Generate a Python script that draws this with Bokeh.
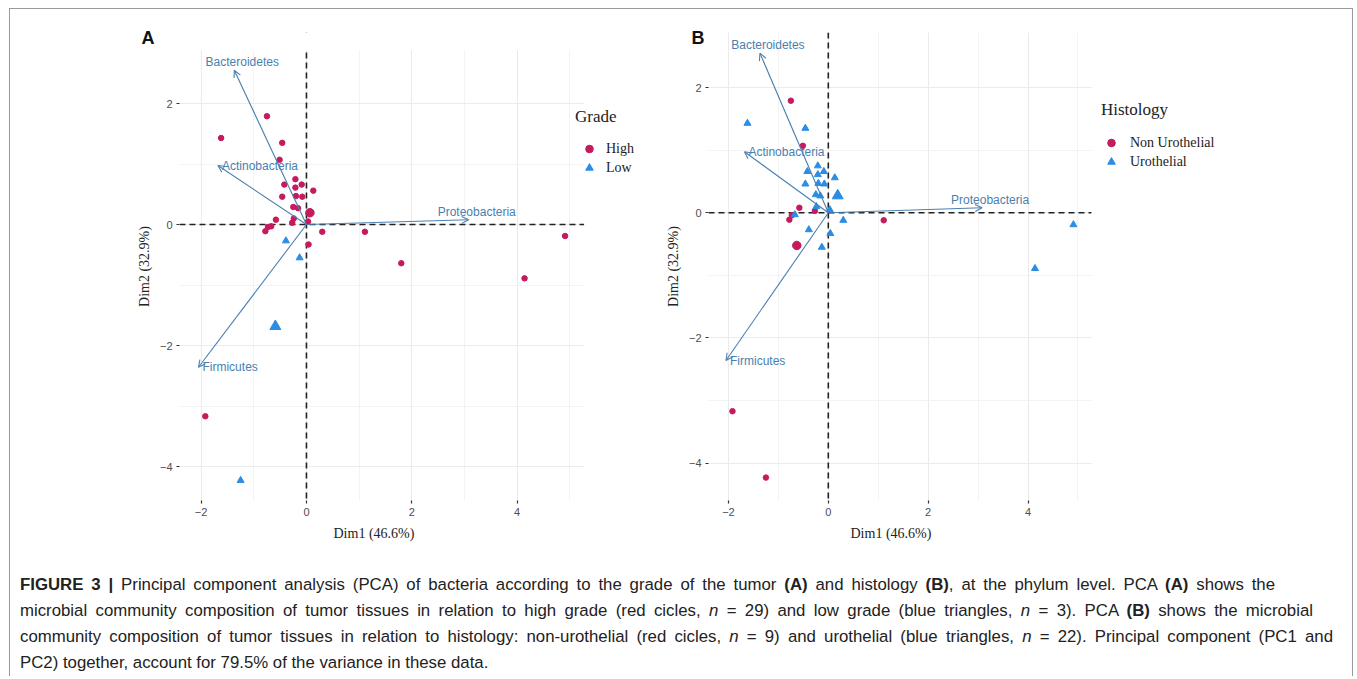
from bokeh.plotting import figure
from bokeh.models import (Span, Arrow, OpenHead, Legend, LegendItem, FixedTicker, Div,
                          BoxAnnotation, Title)
from bokeh.layouts import row, column
from bokeh.embed import file_html
from bokeh.resources import INLINE
from bokeh.core.properties import value

# ---------------- data ----------------
pc1 = [-1.62, -0.75, -0.46, -0.51, -0.42, -0.46, -0.21, -0.09, -0.21, -0.20, -0.08,
       0.13, -0.25, -0.16, -0.24, -0.27, 0.03, -0.58, -0.67, -0.73, -0.78, 0.30,
       1.11, 0.04, 1.80, 4.91, 4.14, -1.92, -0.39, -0.13, -1.25]
pc2 = [1.43, 1.79, 1.35, 1.07, 0.66, 0.46, 0.75, 0.66, 0.61, 0.47, 0.46,
       0.56, 0.29, 0.27, 0.10, 0.03, 0.05, 0.08, -0.03, -0.04, -0.11, -0.12,
       -0.12, -0.33, -0.64, -0.19, -0.89, -3.17, -0.27, -0.55, -4.23]
grade = ["High"] * 28 + ["Low"] * 3
histology = ["Urothelial", "Non Urothelial", "Urothelial", "Non Urothelial", "Urothelial",
             "Urothelial", "Urothelial", "Urothelial", "Urothelial", "Urothelial",
             "Urothelial", "Urothelial", "Urothelial", "Urothelial", "Urothelial",
             "Non Urothelial", "Urothelial", "Non Urothelial", "Urothelial", "Non Urothelial",
             "Non Urothelial", "Urothelial", "Non Urothelial", "Urothelial", None,
             "Urothelial", "Urothelial", "Non Urothelial", "Urothelial", "Urothelial",
             "Non Urothelial"]

phyla = ["Bacteroidetes", "Actinobacteria", "Proteobacteria", "Firmicutes"]
load1 = [-1.37, -1.68, 3.08, -2.05]
load2 = [2.55, 0.975, 0.08, -2.36]

x_ticks = [-2, 0, 2, 4]
x_minor = [-1, 1, 3, 5]
y_ticks = [-4, -2, 0, 2]
y_minor = [-3, -1, 1]
x_title = "Dim1 (46.6%)"
y_title = "Dim2 (32.9%)"

# ---------------- style ----------------
RED = "#C51B5E"
BLUE = "#2B8DE3"
VAR = "#4A80B0"
SERIF = "Liberation Serif"
SANS = "Liberation Sans"
H = 545
PANEL_END = 5.27   # right edge of the visible panel (data units)
PANEL_TOP = 2.88   # top edge of the visible panel (data units)


def make_panel(letter, letter_off, groups, levels, legend_title, width, left,
               xr, yr, legend_loc, glyph_w, label_sd, title_sd, xlab_off):
    p = figure(width=width, height=H, x_range=xr, y_range=yr,
               output_backend="svg", toolbar_location=None,
               min_border_left=left, min_border_right=5,
               min_border_top=23, min_border_bottom=54)
    p.outline_line_color = None
    p.background_fill_color = "white"
    p.border_fill_color = "white"

    p.title.text = letter
    p.title.align = "left"
    p.title.offset = letter_off
    p.title.standoff = -30
    p.title.text_font = SANS
    p.title.text_font_style = "bold"
    p.title.text_font_size = "18px"
    p.title.text_color = "#111111"

    p.xaxis.ticker = FixedTicker(ticks=x_ticks, minor_ticks=x_minor)
    p.yaxis.ticker = FixedTicker(ticks=y_ticks, minor_ticks=y_minor)
    for g in (p.xgrid, p.ygrid):
        g.grid_line_color = "#EBEBEB"
        g.grid_line_width = 1.1
        g.minor_grid_line_color = "#F0F0F0"
        g.minor_grid_line_width = 0.8
    for ax in (p.xaxis, p.yaxis):
        ax.axis_line_color = None
        ax.major_tick_line_color = "#333333"
        ax.major_tick_line_width = 1.2
        ax.major_tick_out = 3
        ax.major_tick_in = 0
        ax.minor_tick_line_color = None
        ax.major_label_text_font = SANS
        ax.major_label_text_font_size = "11px"
        ax.major_label_text_color = "#4D4D4D"
        ax.major_label_standoff = 3
        ax.axis_label_text_font = SERIF
        ax.axis_label_text_font_style = "normal"
        ax.axis_label_text_font_size = "14px"
        ax.axis_label_text_color = "#222222"
    p.yaxis.axis_label_standoff = 5
    p.yaxis.axis_label = y_title
    p.add_layout(Title(text=x_title, align="left", offset=xlab_off, standoff=10,
                       text_font=SERIF, text_font_style="normal", text_font_size="14px",
                       text_color="#222222"), "below")

    # reference dashed lines
    p.add_layout(Span(location=0, dimension="width", line_color="#222222",
                      line_width=1.6, line_dash="6 4", level="underlay"))
    p.add_layout(Span(location=0, dimension="height", line_color="#222222",
                      line_width=1.6, line_dash="6 4", level="underlay"))
    # blank areas outside the visible panel (legend area on the right, margin on top)
    p.add_layout(BoxAnnotation(left=PANEL_END, fill_color="white", fill_alpha=1.0,
                               line_alpha=0, level="underlay"))
    p.add_layout(BoxAnnotation(bottom=PANEL_TOP, fill_color="white", fill_alpha=1.0,
                               line_alpha=0, level="underlay"))

    # variable arrows
    for a, b in zip(load1, load2):
        p.add_layout(Arrow(end=OpenHead(size=7, line_color=VAR, line_width=1.1),
                           x_start=0, y_start=0, x_end=a, y_end=b,
                           line_color=VAR, line_width=1.1))
    above = [i for i, n in enumerate(phyla) if n in ("Bacteroidetes", "Proteobacteria")]
    side = [i for i in range(len(phyla)) if i not in above]
    p.text(x=[load1[i] for i in above], y=[load2[i] for i in above],
           text=[phyla[i] for i in above], text_align="center", text_baseline="middle",
           x_offset=8, y_offset=-8, text_color=VAR, text_font=value(SANS),
           text_font_size="12px")
    p.text(x=[load1[i] for i in side], y=[load2[i] for i in side],
           text=[phyla[i] for i in side], text_align="left", text_baseline="middle",
           x_offset=4, y_offset=0, text_color=VAR, text_font=value(SANS),
           text_font_size="12px")

    # individuals + group centroids
    items = []
    for lev, shp, col in zip(levels, ["circle", "triangle"], [RED, BLUE]):
        xs = [x for x, g in zip(pc1, groups) if g == lev]
        ys = [y for y, g in zip(pc2, groups) if g == lev]
        r = p.scatter(xs, ys, marker=shp, size=5.5 if shp == "circle" else 7,
                      fill_color=col, line_color=col)
        p.scatter([sum(xs) / len(xs)], [sum(ys) / len(ys)], marker=shp,
                  size=8.5 if shp == "circle" else 11, fill_color=col, line_color=col)
        items.append(LegendItem(label=lev, renderers=[r]))

    leg = Legend(items=items, location=legend_loc, title=legend_title,
                 title_text_font=SERIF, title_text_font_size="17px",
                 title_text_font_style="normal", title_text_color="#222222",
                 title_standoff=title_sd,
                 label_text_font=SERIF, label_text_font_size="14px",
                 label_text_color="#222222",
                 glyph_width=glyph_w, glyph_height=19, label_height=19,
                 label_standoff=label_sd, spacing=0, padding=5, margin=0,
                 background_fill_alpha=0, border_line_alpha=0)
    p.add_layout(leg, "center")
    return p


pA = make_panel("A", -38, grade, ["High", "Low"], "Grade",
                652, 169, (-2.41, 6.664), (-4.562, 3.174), (391, 318), 28, 3, 12, 154)
pB = make_panel("B", -17, histology, ["Non Urothelial", "Urothelial"], "Histology",
                690, 41, (-2.40, 10.40), (-4.596, 2.880), (388, 324), 20, 9, 13, 142)

caption_lines = [
    "<b>FIGURE 3 |</b> Principal component analysis (PCA) of bacteria according to the grade "
    "of the tumor <b>(A)</b> and histology <b>(B)</b>, at the phylum level. PCA <b>(A)</b> shows the",
    "microbial community composition of tumor tissues in relation to high grade (red cicles, "
    "<i>n</i> = 29) and low grade (blue triangles, <i>n</i> = 3). PCA <b>(B)</b> shows the microbial",
    "community composition of tumor tissues in relation to histology: non-urothelial (red cicles, "
    "<i>n</i> = 9) and urothelial (blue triangles, <i>n</i> = 22). Principal component (PC1 and",
    "PC2) together, account for 79.5% of the variance in these data.",
]
line_widths = [1255, 1293, 1313, 1313]
line_html = ""
for k, (ln, w) in enumerate(zip(caption_lines, line_widths)):
    last = "justify" if k < len(caption_lines) - 1 else "left"
    line_html += ("<div style=\"width:%dpx;text-align:justify;text-align-last:%s;"
                  "white-space:normal;\">%s</div>" % (w, last, ln))
cap = Div(text="<div style=\"font-family:'Liberation Sans';font-size:16.8px;line-height:26px;"
               "color:#222;\">" + line_html + "</div>",
          width=1320, margin=(18, 0, 0, 10))

layout = column(row(pA, pB), cap, margin=(8, 0, 0, 9),
                styles={"border-top": "1px solid #9a9a9a",
                        "border-left": "1px solid #9a9a9a",
                        "border-right": "1px solid #9a9a9a"})

open("out.html", "w").write(file_html(layout, INLINE))
